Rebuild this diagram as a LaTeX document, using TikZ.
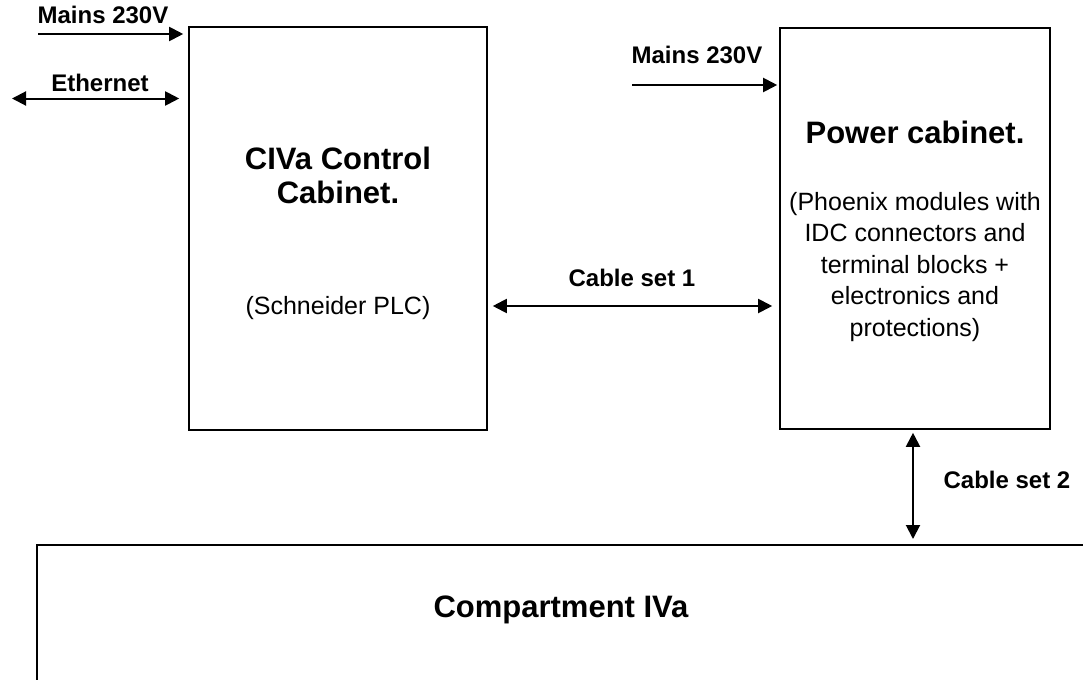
\documentclass[tikz,border=0pt]{standalone}
\usepackage{fontspec}
\setmainfont{Liberation Sans}
\usetikzlibrary{arrows.meta,calc}
\definecolor{LineClr}{rgb}{0,0,0}

\begin{document}
\begin{tikzpicture}[x=0.5pt,y=-0.5pt,
  cab/.style={draw=LineClr,line width=0.8pt,rectangle,inner sep=0pt},
  conn/.style={line width=1pt,color=LineClr,{Triangle[length=7pt,width=7pt]}-{Triangle[length=7pt,width=7pt]}},
  feed/.style={line width=1pt,color=LineClr,-{Triangle[length=7pt,width=7pt]}},
  lbl/.style={inner sep=0pt,font=\fontsize{12}{14}\selectfont\bfseries},
  title/.style={inner sep=0pt,align=center,font=\fontsize{15.5}{17}\selectfont\bfseries},
  info/.style={inner sep=0pt,align=center,font=\fontsize{12.5}{15.75}\selectfont}]
\clip (0,0) rectangle (1083,680);

% cabinets
\node[cab,minimum width=149pt,minimum height=201.5pt] (ctrl) at (338,228.5) {};
\node[cab,minimum width=135pt,minimum height=200.5pt] (pwr) at (915,228.5) {};
\node[cab,minimum width=525pt,minimum height=100pt,anchor=north west] (comp) at (36,544) {};

% texts in the boxes
\node[title] (ctrlT) at (338,175) {CIVa Control\\Cabinet.};
\node[info] (ctrlI) at (338,308) {(Schneider PLC)};
\node[title] (pwrT) at (915,132) {Power cabinet.};
\node[info] (pwrI) at (915,267) {(Phoenix modules with\\IDC connectors and\\terminal blocks +\\electronics and\\protections)};
\node[title] (compT) at (561,610) {Compartment IVa};

% supplies
\coordinate (mainsA) at (38,34);
\coordinate (eth) at (12,98.5);
\coordinate (mainsB) at (632,85);
\draw[feed,shorten >=2.5pt] (mainsA) -- (mainsA -| ctrl.west);
\draw[conn,shorten >=4.5pt] (eth) -- (eth -| ctrl.west);
\draw[feed,shorten >=1pt] (mainsB) -- (mainsB -| pwr.west);
\node[lbl] (mainsAL) at (103,15) {Mains 230V};
\node[lbl] (ethL) at (100,83) {Ethernet};
\node[lbl] (mainsBL) at (697,55) {Mains 230V};

% cable sets
\coordinate (set1) at (0,306);
\coordinate (set2) at (913,0);
\draw[conn,shorten <=2.5pt,shorten >=3.5pt] (set1 -| ctrl.east) -- (set1 -| pwr.west);
\draw[conn,shorten <=1.5pt,shorten >=2.5pt] (set2 |- pwr.south) -- (set2 |- comp.north);
\node[lbl] (set1L) at (632,278) {Cable set 1};
\node[lbl] (set2L) at (1007,480) {Cable set 2};

\end{tikzpicture}
\end{document}
